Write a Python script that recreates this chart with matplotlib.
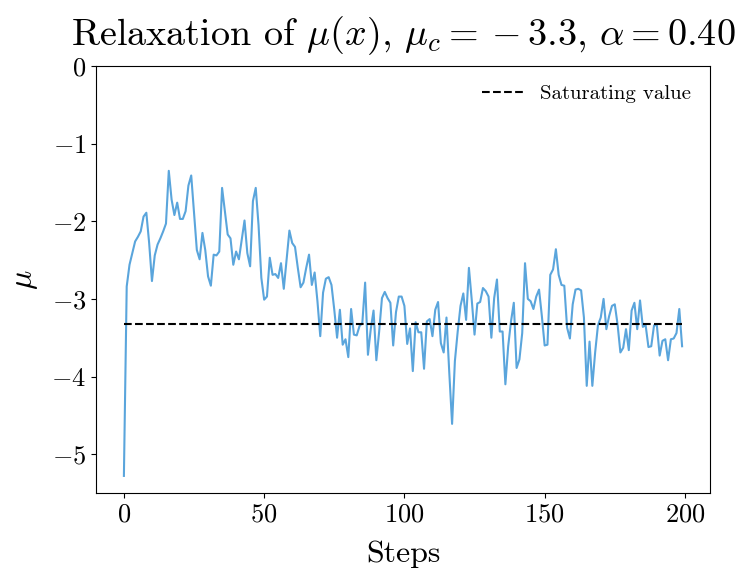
import matplotlib
matplotlib.use("Agg")
import matplotlib.pyplot as plt
import numpy as np

mu_values = [
    -5.28, -2.84, -2.56, -2.41, -2.26, -2.20, -2.13, -1.94, -1.89, -2.28,
    -2.77, -2.44, -2.30, -2.22, -2.13, -2.03, -1.35, -1.72, -1.92, -1.76,
    -1.97, -1.97, -1.87, -1.54, -1.41, -1.89, -2.37, -2.49, -2.15, -2.37,
    -2.71, -2.83, -2.43, -2.44, -2.39, -1.57, -1.87, -2.17, -2.22, -2.56,
    -2.39, -2.49, -2.24, -1.99, -2.41, -2.58, -1.74, -1.57, -2.05, -2.73,
    -3.01, -2.97, -2.47, -2.69, -2.68, -2.73, -2.54, -2.87, -2.49, -2.12,
    -2.28, -2.33, -2.60, -2.85, -2.79, -2.60, -2.43, -2.82, -2.66, -3.03,
    -3.48, -2.92, -2.74, -2.72, -2.82, -3.14, -3.50, -3.14, -3.59, -3.52,
    -3.75, -3.13, -3.46, -3.47, -3.35, -3.31, -2.79, -3.72, -3.39, -3.15,
    -3.79, -3.42, -2.99, -2.91, -2.99, -3.05, -3.60, -3.17, -2.97, -2.97,
    -3.09, -3.58, -3.38, -3.93, -3.30, -3.43, -3.43, -3.90, -3.29, -3.26,
    -3.48, -3.14, -3.04, -3.57, -3.69, -3.24, -3.95, -4.61, -3.80, -3.42,
    -3.09, -2.93, -3.27, -2.60, -3.01, -3.46, -3.06, -3.04, -2.86, -2.90,
    -2.97, -3.50, -2.99, -2.75, -3.42, -3.42, -4.10, -3.61, -3.29, -3.05,
    -3.89, -3.78, -3.44, -2.54, -3.00, -3.03, -3.13, -2.97, -2.88, -3.22,
    -3.60, -3.59, -2.69, -2.62, -2.36, -2.69, -2.82, -2.83, -3.37, -3.51,
    -3.07, -2.88, -2.87, -2.89, -3.24, -4.12, -3.55, -4.12, -3.69, -3.34,
    -3.24, -3.00, -3.39, -3.22, -3.09, -3.07, -3.33, -3.69, -3.63, -3.39,
    -3.66, -3.15, -3.05, -3.39, -3.02, -3.36, -3.34, -3.62, -3.61, -3.34,
    -3.34, -3.73, -3.54, -3.52, -3.79, -3.52, -3.51, -3.44, -3.13, -3.61,
]
steps = np.arange(len(mu_values))
saturating_value = -3.32

title_text = r"Relaxation of $\mu(x)$, $\mu_c = {}-3.3$, $\alpha = 0.40$"
xlabel_text = "Steps"
ylabel_text = r"$\mu$"
legend_label = "Saturating value"
xticks = [0, 50, 100, 150, 200]
yticks = [0, -1, -2, -3, -4, -5]

plt.rcParams["font.family"] = "serif"
plt.rcParams["font.serif"] = ["cmr10"]
plt.rcParams["mathtext.fontset"] = "cm"
plt.rcParams["axes.formatter.use_mathtext"] = True

fig = plt.figure(figsize=(7.35, 5.69), dpi=100)
ax = fig.add_axes([0.1306, 0.1336, 0.966 - 0.1306, 0.884 - 0.1336])

ax.plot(steps, mu_values, color="#5aa5dc", lw=1.5)
ax.plot([steps[0], steps[-1]], [saturating_value, saturating_value],
        color="black", ls="--", lw=1.5, label=legend_label)

ax.set_ylim(-5.5, 0)
ax.set_xticks(xticks)
ax.set_yticks(yticks)
ax.tick_params(labelsize=19)
ax.set_xlabel(xlabel_text, fontsize=23, labelpad=10)
ax.set_ylabel(ylabel_text, fontsize=23, labelpad=8)
ax.set_title(title_text, fontsize=27.5, pad=15)
ax.legend(loc="upper right", frameon=False, fontsize=15)

fig.savefig("out.png", dpi=100)
